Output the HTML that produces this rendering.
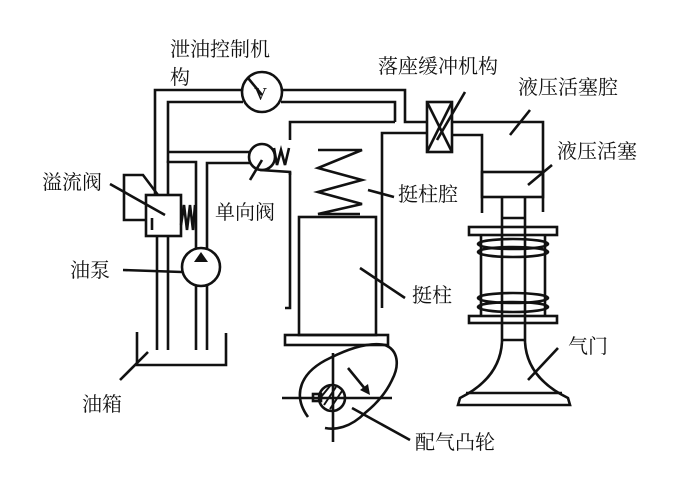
<!DOCTYPE html>
<html><head><meta charset="utf-8"><style>
html,body{margin:0;padding:0;background:#fff;}
svg{display:block;}
text{font-family:"Liberation Serif","Noto Serif CJK SC","Noto Sans CJK SC",serif;font-size:20px;fill:#111;dominant-baseline:central;}
</style></head><body>
<svg width="695" height="491" viewBox="0 0 695 491" xmlns="http://www.w3.org/2000/svg">
<g fill="none" stroke="#111" stroke-width="2.6" stroke-linejoin="miter">
<polyline points="137,332 137,365 226,365 226,333"/>
<line x1="157" y1="236" x2="157" y2="350"/>
<line x1="168" y1="236" x2="168" y2="350"/>
<line x1="196" y1="285" x2="196" y2="350"/>
<line x1="207" y1="285" x2="207" y2="350"/>
<circle cx="201" cy="267" r="19"/>
<rect x="146" y="195" width="35" height="41"/>
<polyline points="146,220 124,220 124,175 143,175 158,195"/>
<polyline points="181,225 184,205 187,230 190,205 193,230 195,205"/>
<line x1="152" y1="218" x2="152" y2="230"/>
<polyline points="155,195 155,90 243,90"/>
<polyline points="281,90 405,90 405,122 427,122"/>
<polyline points="168,195 168,102 243,102"/>
<polyline points="281,102 395,102 395,122"/>
<polyline points="395,122 290,122 290,140"/>
<line x1="168" y1="152" x2="250" y2="152"/>
<polyline points="168,163 168,162 196,162 196,248"/>
<polyline points="207,248 207,163 250,163"/>
<circle cx="262" cy="157" r="13"/>
<polyline points="274,148 277,165 281,150 285,165 289,148"/>
<polyline points="260,170 290,172 290,175"/>
<circle cx="262" cy="92" r="20"/>
<polyline points="290,172 290,308 285,308"/>
<polyline points="382,308 382,133 427,133"/>
<polyline points="318,150 362,150 318,168 362,180 318,192 362,204 318,214 360,214"/>
<rect x="299" y="217" width="77" height="118"/>
<rect x="285" y="335" width="103" height="10"/>
<rect x="427" y="102" width="25" height="50"/>
<line x1="427" y1="102" x2="452" y2="152"/>
<line x1="452" y1="102" x2="427" y2="152"/>
<polyline points="452,122 543,122 543,212"/>
<polyline points="452,135 482,135 482,213"/>
<rect x="482" y="172" width="61" height="25"/>
<line x1="502" y1="197" x2="502" y2="342"/>
<line x1="525" y1="197" x2="525" y2="342"/>
<line x1="502" y1="218" x2="525" y2="218"/>
<line x1="502" y1="340" x2="525" y2="340"/>
<rect x="469" y="227" width="88" height="8"/>
<rect x="469" y="316" width="88" height="7"/>
<line x1="481" y1="235" x2="481" y2="316"/>
<line x1="545" y1="235" x2="545" y2="316"/>
<ellipse cx="513" cy="244" rx="35" ry="5"/>
<ellipse cx="513" cy="252" rx="35" ry="5"/>
<ellipse cx="513" cy="298" rx="35" ry="5"/>
<ellipse cx="513" cy="307" rx="35" ry="5"/>
<path d="M502,342 Q500,378 460,398 L458,405 L570,405 L568,398 Q527,378 525,342"/>
<line x1="466" y1="393" x2="562" y2="393"/>
<line x1="282" y1="398" x2="392" y2="398"/>
<line x1="333" y1="353" x2="333" y2="442"/>
<circle cx="332" cy="398" r="13"/>
<rect x="313" y="394" width="8" height="7"/>
<path d="M308,417 C292,395 300,372 330,358 C350,348 370,342 385,345 C398,350 400,365 392,380 C385,395 375,405 365,413 C350,428 335,430 325,428"/>
<line x1="348" y1="368" x2="366" y2="390"/>
<line x1="248" y1="78" x2="262" y2="95"/>
<line x1="437" y1="140" x2="465" y2="92"/>
<line x1="510" y1="135" x2="530" y2="110"/>
<line x1="528" y1="185" x2="552" y2="165"/>
<line x1="110" y1="184" x2="165" y2="215"/>
<line x1="250" y1="180" x2="262" y2="160"/>
<line x1="368" y1="190" x2="394" y2="197"/>
<line x1="123" y1="270" x2="182" y2="272"/>
<line x1="360" y1="268" x2="405" y2="298"/>
<line x1="120" y1="380" x2="148" y2="352"/>
<line x1="528" y1="380" x2="558" y2="348"/>
<line x1="352" y1="408" x2="410" y2="440"/>
</g>
<g stroke="#111" stroke-width="2">
<line x1="324" y1="405" x2="336" y2="387"/>
<line x1="330" y1="409" x2="342" y2="391"/>
<line x1="321" y1="397" x2="330" y2="386"/>
</g>
<g fill="#111">
<polygon points="201,252 194,262 208,262"/>
<polygon points="370,395 360,390 368,384"/>
</g>
<text x="254" y="94" style="font-size:18px">V</text>
<text x="170" y="50">泄油控制机</text>
<text x="170" y="78">构</text>
<text x="378" y="67">落座缓冲机构</text>
<text x="518" y="88">液压活塞腔</text>
<text x="557" y="152">液压活塞</text>
<text x="42" y="183">溢流阀</text>
<text x="215" y="213">单向阀</text>
<text x="398" y="195">挺柱腔</text>
<text x="70" y="271">油泵</text>
<text x="412" y="296">挺柱</text>
<text x="568" y="347">气门</text>
<text x="82" y="405">油箱</text>
<text x="415" y="443">配气凸轮</text>
</svg>
</body></html>
